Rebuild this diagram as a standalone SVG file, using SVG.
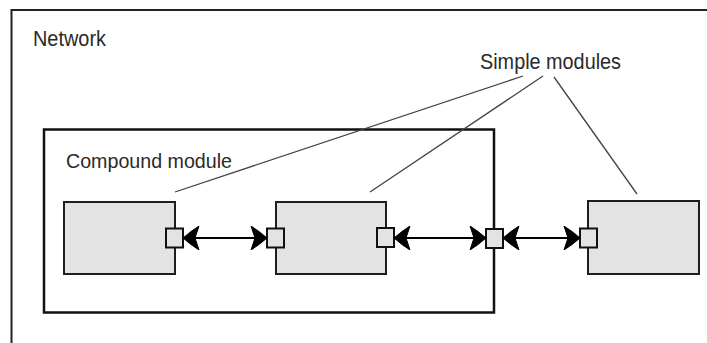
<svg xmlns="http://www.w3.org/2000/svg" width="707" height="343" viewBox="0 0 707 343">
<style>
.lbl{font-family:"Liberation Sans",Arial,sans-serif;fill:#2a2a2a;}
.mod{fill:#e3e3e3;stroke:#1e1e1e;stroke-width:2;}
.port{fill:#e3e3e3;stroke:#111;stroke-width:2;}
.conn{stroke:#000;stroke-width:2;fill:none;marker-start:url(#ah);marker-end:url(#ah);}
.lead{stroke:#444;stroke-width:1.3;fill:none;}
</style>
<defs>
<marker id="ah" markerUnits="userSpaceOnUse" viewBox="0 0 17 24" markerWidth="17" markerHeight="24" refX="17" refY="12" orient="auto-start-reverse">
<path d="M17,12 Q9,5 1,0 L5,12 L1,24 Q9,19 17,12 Z" fill="#000" stroke="#000" stroke-width="1"/>
</marker>
</defs>
<rect width="707" height="343" fill="#fff"/>
<g id="network">
<rect x="11.5" y="10" width="720" height="360" fill="none" stroke="#222" stroke-width="2"/>
<text class="lbl" x="33" y="46" font-size="22" textLength="73" lengthAdjust="spacingAndGlyphs">Network</text>
</g>
<g id="compound">
<rect x="44" y="129.5" width="450" height="183" fill="none" stroke="#111" stroke-width="2.5"/>
<text class="lbl" x="66" y="168" font-size="21" textLength="166" lengthAdjust="spacingAndGlyphs">Compound module</text>
</g>
<g id="label-simple">
<text class="lbl" x="480" y="69" font-size="22" textLength="141" lengthAdjust="spacingAndGlyphs">Simple modules</text>
</g>
<g id="leaders">
<line class="lead" x1="523" y1="76" x2="175" y2="192"/>
<line class="lead" x1="543" y1="76" x2="370" y2="192"/>
<line class="lead" x1="554" y1="77" x2="637" y2="194"/>
</g>
<g id="module1">
<rect class="mod" x="64" y="202" width="111" height="72"/>
<rect class="port" x="166" y="228.5" width="17" height="19"/>
</g>
<g id="module2">
<rect class="mod" x="276" y="202" width="110" height="72"/>
<rect class="port" x="267" y="228.5" width="17" height="19"/>
<rect class="port" x="377" y="228" width="17" height="19"/>
</g>
<g id="compound-port">
<rect class="port" x="486" y="229" width="17" height="19"/>
</g>
<g id="module3">
<rect class="mod" x="588" y="201" width="111" height="73"/>
<rect class="port" x="580" y="228.5" width="17" height="19"/>
</g>
<g id="connectors">
<line class="conn" x1="183" y1="238" x2="267" y2="238"/>
<line class="conn" x1="394" y1="238" x2="486" y2="238"/>
<line class="conn" x1="503" y1="238" x2="580" y2="238"/>
</g>
</svg>
